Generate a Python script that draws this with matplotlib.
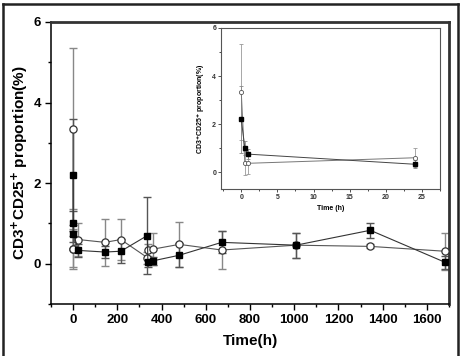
import numpy as np
import matplotlib.pyplot as plt
from matplotlib.lines import Line2D

plt.rcParams['font.family'] = ['Liberation Sans', 'DejaVu Sans']
plt.rcParams['font.weight'] = 'bold'

# time points (h)
t = np.array([0, 0.5, 1, 24, 144, 216, 336, 338, 360, 480, 672, 1008, 1344, 1680])

# filled squares
sq = np.array([2.2, 1.0, 0.75, 0.33, 0.29, 0.31, 0.70, 0.05, 0.07, 0.21, 0.53, 0.46, 0.83, 0.04])
sq_err = np.array([1.4, 0.3, 0.2, 0.17, 0.15, 0.3, 0.95, 0.12, 0.1, 0.3, 0.27, 0.31, 0.18, 0.16])

# open circles
circ = np.array([3.35, 0.37, 0.37, 0.60, 0.53, 0.60, 0.15, 0.34, 0.36, 0.48, 0.34, 0.46, 0.43, 0.31])
circ_err = np.array([2.0, 0.5, 0.45, 0.4, 0.58, 0.5, 0.15, 0.15, 0.4, 0.55, 0.48, 0.31, 0.05, 0.46])

ylab = r'CD3$^{\mathbf{+}}$CD25$^{\mathbf{+}}$ proportion(%)'

fig = plt.figure(figsize=(4.61, 3.56), dpi=100)

# outer frame (open at the bottom)
for xs, ys in [([3/461, 3/461], [-0.1, 1-4/356]),
               ([3/461, 458/461], [1-4/356, 1-4/356]),
               ([458/461, 458/461], [1-4/356, -0.1])]:
    fig.add_artist(Line2D(xs, ys, color='#222222', lw=1.8, transform=fig.transFigure))

ax = fig.add_axes([51/461, 1-304/356, 398/461, 282/356])

ax.errorbar(t, circ, yerr=circ_err, fmt='none', ecolor='#888888', elinewidth=1, capsize=3, capthick=1, zorder=2)
ax.errorbar(t, sq, yerr=sq_err, fmt='none', ecolor='#555555', elinewidth=1, capsize=3, capthick=1, zorder=2)
ax.plot(t, circ, '-', color='#555555', lw=0.8, marker='o', ms=5.2, mfc='white', mec='#333333', mew=0.9, zorder=3)
ax.plot(t, sq, '-', color='#333333', lw=0.8, marker='s', ms=4.6, mfc='black', mec='black', zorder=4)

ax.set_xlim(-100, 1700)
ax.set_ylim(-1, 6)
ax.set_xticks(np.arange(0, 1601, 200))
ax.set_xticks(np.arange(-100, 1701, 100), minor=True)
ax.set_yticks([0, 2, 4, 6])
ax.set_yticks([-1, 1, 3, 5], minor=True)
ax.tick_params(direction='out', labelsize=9.5, width=1, length=4, pad=3)
ax.tick_params(which='minor', direction='out', width=1, length=2.5)
ax.tick_params(top=False, right=False, which='both')
for s in ['left', 'bottom']:
    ax.spines[s].set_linewidth(1.1)
for s in ['top', 'right']:
    ax.spines[s].set_linewidth(2)
ax.spines['top'].set_color('#333333')
ax.spines['right'].set_color('#333333')
ax.set_xlabel('Time(h)', fontsize=11, fontweight='bold', labelpad=6)
ax.set_ylabel(ylab, fontsize=11, fontweight='bold', labelpad=3)

# inset: first 24 h
m = t <= 24
ins = fig.add_axes([221/461, 1-189/356, 219/461, 161/356])
ins.errorbar(t[m], circ[m], yerr=circ_err[m], fmt='none', ecolor='#999999', elinewidth=0.6, capsize=1.5, capthick=0.6)
ins.errorbar(t[m], sq[m], yerr=sq_err[m], fmt='none', ecolor='#888888', elinewidth=0.6, capsize=1.5, capthick=0.6)
ins.plot(t[m], circ[m], '-', color='#777777', lw=0.7, marker='o', ms=3, mfc='white', mec='#555555', mew=0.6)
ins.plot(t[m], sq[m], '-', color='#444444', lw=0.7, marker='s', ms=2.8, mfc='black', mec='black')
ins.set_xlim(-2.8, 27.5)
ins.set_ylim(-0.7, 6)
ins.set_xticks([0, 5, 10, 15, 20, 25])
ins.set_xticks(np.arange(-2.5, 27.6, 2.5), minor=True)
ins.set_yticks([0, 2, 4, 6])
ins.set_yticks([1, 3, 5], minor=True)
ins.tick_params(direction='out', labelsize=5, width=0.6, length=2, pad=1.5, colors='#333333')
ins.tick_params(which='minor', direction='out', width=0.5, length=1.2)
for s in ins.spines.values():
    s.set_linewidth(0.8)
    s.set_color('#555555')
ins.set_xlabel('Time (h)', fontsize=5, fontweight='bold', labelpad=3)
ins.set_ylabel(ylab, fontsize=5, fontweight='bold', labelpad=3)

fig.savefig('out.png', dpi=100)
